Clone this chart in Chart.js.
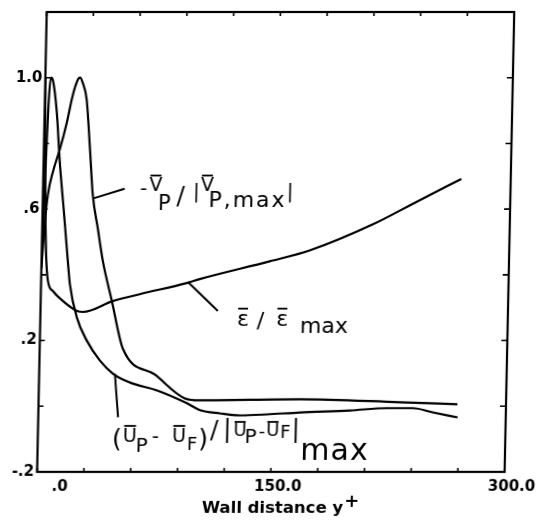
<!DOCTYPE html>
<html>
<head>
<meta charset="utf-8">
<script src="https://cdn.jsdelivr.net/npm/chart.js@4.4.0/dist/chart.umd.min.js"></script>
<style>
  html, body { margin: 0; padding: 0; background: #fff; overflow: hidden; }
  #wrap { width: 536px; height: 524px; overflow: hidden; }
  /* slight shear on the whole plot */
  #plot { display: block; transform: skewX(-1.2deg); transform-origin: 268px 262px; }
</style>
</head>
<body>
<div id="wrap"><canvas id="plot" width="550" height="524"></canvas></div>
<script>
// (Up - Uf) / |Up - Uf|max against y+
const slipX = [0, 1.2, 2.4, 3.5, 5.0, 7.8, 10.4, 13.7, 16.9, 18.5, 23.5, 30.2, 38.8, 47.4, 58.4, 75.8, 95.2, 103.7, 116.5, 129.4, 146.7, 167.8, 199.9, 223.6, 240.3, 253.1, 269.1];
const slipY = [0.45, 0.70, 0.92, 1.0, 0.99, 0.895, 0.743, 0.592, 0.441, 0.372, 0.269, 0.199, 0.139, 0.099, 0.072, 0.048, 0.009, -0.012, -0.022, -0.028, -0.025, -0.019, -0.013, -0.006, -0.006, -0.019, -0.034];

// -Vp / |Vp,max|
const partX = [0, 1.5, 3.2, 6.1, 10.3, 14.4, 17.8, 21.0, 22.3, 24.0, 26.8, 29.4, 32.0, 35.7, 39.4, 45.7, 53.4, 74.3, 93.8, 103.5, 167.6, 231.7, 268.8];
const partY = [0.42, 0.55, 0.644, 0.713, 0.783, 0.864, 0.946, 0.995, 1.0, 0.985, 0.934, 0.795, 0.644, 0.541, 0.441, 0.320, 0.175, 0.096, 0.024, 0.018, 0.021, 0.012, 0.006];

// eps / eps max
const dissX = [0, 0.8, 1.8, 3.0, 4.4, 7.8, 14.3, 23.4, 27.3, 46.3, 63.5, 93.5, 101.8, 146.4, 171.9, 211.9, 239.8, 268.3];
const dissY = [1.0, 0.80, 0.60, 0.45, 0.381, 0.350, 0.320, 0.290, 0.287, 0.320, 0.341, 0.375, 0.387, 0.441, 0.474, 0.553, 0.622, 0.692];

const xTickValues = [0, 150, 300];
const xTickLabels = ['.0', '150.0', '300.0'];
const yTickValues = [-0.2, 0.2, 0.6, 1.0];
const yTickLabels = ['-.2', '.2', '.6', '1.0'];

const pts = (xs, ys) => xs.map((v, i) => ({ x: v, y: ys[i] }));
const pick = (vals, labels) => v => {
  const i = vals.findIndex(t => Math.abs(t - v) < 1e-6);
  return i < 0 ? '' : labels[i];
};

// curve labels: leader line (data coords) and text runs
const notes = [
  {
    leader: [[32, 0.632], [52.4, 0.662]],
    at: [62.2, 0.635],
    runs: [
      { t: '-', s: 20, dy: -3 },
      { t: 'V', s: 19, dy: -7, dx: 2, bar: 16 },
      { t: 'P', s: 21, dy: 12, dx: -4 },
      { t: '/', s: 24, dy: 6, dx: 6 },
      { t: '|', s: 20, dy: 0, dx: 8 },
      { t: 'V', s: 19, dy: -7, dx: 1, bar: 16 },
      { t: 'P,max', s: 22, dy: 9, dx: -5, ls: 2 },
      { t: '|', s: 20, dy: 0, dx: 0 }
    ]
  },
  {
    leader: [[94.2, 0.378], [113.8, 0.290]],
    at: [126.2, 0.245],
    runs: [
      { t: 'ε', s: 22, dy: 0, bar: 18 },
      { t: '/', s: 22, dy: 2, dx: 8 },
      { t: 'ε', s: 22, dy: 0, dx: 12, bar: 18 },
      { t: 'max', s: 22, dy: 7, dx: 12 }
    ]
  },
  {
    leader: [[48.6, 0.099], [51.2, -0.034]],
    at: [47.7, -0.109],
    runs: [
      { t: '(', s: 25, dy: 5 },
      { t: 'U', s: 19, dy: 0, dx: 1, bar: 17 },
      { t: 'P', s: 20, dy: 10, dx: -1 },
      { t: '-', s: 20, dy: 1, dx: 4 },
      { t: 'U', s: 19, dy: 0, dx: 13, bar: 17 },
      { t: 'F', s: 18, dy: 8, dx: 1 },
      { t: ')', s: 25, dy: 5, dx: 1 },
      { t: '/', s: 24, dy: -4, dx: 2 },
      { t: '|', s: 24, dy: -5, dx: 5 },
      { t: 'U', s: 18, dy: -6, dx: 2, bar: 15 },
      { t: 'P', s: 20, dy: 1, dx: -2 },
      { t: '-', s: 18, dy: -5, dx: 2 },
      { t: 'U', s: 18, dy: -6, dx: 1, bar: 15 },
      { t: 'F', s: 18, dy: -4, dx: 1 },
      { t: '|', s: 24, dy: -5, dx: 1 },
      { t: 'max', s: 30, dy: 18, dx: 1, ls: 1 }
    ]
  }
];

function drawRuns(ctx, x, y, runs) {
  runs.forEach(r => {
    x += r.dx || 0;
    ctx.font = r.s + 'px "DejaVu Sans"';
    ctx.letterSpacing = (r.ls || 0) + 'px';
    ctx.fillText(r.t, x, y + r.dy);
    const w = ctx.measureText(r.t).width;
    if (r.bar) ctx.fillRect(x + 1, y + r.dy - r.bar, w - 2 - (r.ls || 0), 1.8);
    x += w;
  });
  ctx.letterSpacing = '0px';
}

const decorations = {
  id: 'decorations',
  afterDraw(chart) {
    const { ctx, chartArea: a } = chart;
    const sx = chart.scales.x, sy = chart.scales.y;
    ctx.save();
    ctx.strokeStyle = '#000';
    ctx.fillStyle = '#000';

    // frame
    ctx.lineWidth = 2.2;
    ctx.strokeRect(a.left, a.top, a.right - a.left, a.bottom - a.top);

    // tick marks pointing inwards on all four sides
    ctx.lineWidth = 1.6;
    ctx.beginPath();
    sx.ticks.forEach(t => {
      const px = sx.getPixelForValue(t.value);
      ctx.moveTo(px, a.bottom); ctx.lineTo(px, a.bottom - 4);
      ctx.moveTo(px, a.top); ctx.lineTo(px, a.top + 4);
    });
    sy.ticks.forEach(t => {
      const py = sy.getPixelForValue(t.value);
      ctx.moveTo(a.left, py); ctx.lineTo(a.left + 5, py);
      ctx.moveTo(a.right, py); ctx.lineTo(a.right - 6, py);
    });
    ctx.stroke();

    // curve labels
    ctx.lineWidth = 2;
    ctx.textAlign = 'left';
    ctx.textBaseline = 'alphabetic';
    notes.forEach(n => {
      const [p, q] = n.leader;
      ctx.beginPath();
      ctx.moveTo(sx.getPixelForValue(p[0]), sy.getPixelForValue(p[1]));
      ctx.lineTo(sx.getPixelForValue(q[0]), sy.getPixelForValue(q[1]));
      ctx.stroke();
      drawRuns(ctx, sx.getPixelForValue(n.at[0]), sy.getPixelForValue(n.at[1]), n.runs);
    });

    // axis title with superscript plus
    const tx = a.left + 165.5, ty = a.bottom + 41;
    ctx.font = 'bold 16.5px "DejaVu Sans"';
    ctx.fillText('Wall distance y', tx, ty);
    const tw = ctx.measureText('Wall distance y').width;
    ctx.font = 'bold 18px "DejaVu Sans"';
    ctx.fillText('+', tx + tw + 1, ty - 6);
    ctx.restore();
  }
};

const ctx = document.getElementById('plot').getContext('2d');
const line = { borderColor: '#000', borderWidth: 2.2, pointRadius: 0, fill: false, cubicInterpolationMode: 'monotone' };
const tickFont = { family: 'DejaVu Sans', weight: 'bold', size: 15 };

new Chart(ctx, {
  type: 'line',
  data: {
    datasets: [
      { label: 'slip', data: pts(slipX, slipY), ...line },
      { label: 'particle velocity', data: pts(partX, partY), ...line },
      { label: 'dissipation', data: pts(dissX, dissY), ...line }
    ]
  },
  options: {
    responsive: false,
    animation: false,
    devicePixelRatio: 1,
    layout: { padding: { top: 9, right: 41, left: 0, bottom: 0 } },
    plugins: { legend: { display: false }, tooltip: { enabled: false } },
    scales: {
      x: {
        type: 'linear',
        min: 0, max: 300,
        grid: { display: false, drawTicks: false },
        border: { display: false },
        afterFit: s => { s.height = 52; },
        ticks: {
          stepSize: 30,
          autoSkip: false,
          maxRotation: 0,
          align: 'end',
          labelOffset: 31,
          padding: 6,
          color: '#000',
          font: tickFont,
          callback: pick(xTickValues, xTickLabels)
        }
      },
      y: {
        min: -0.2, max: 1.2,
        grid: { display: false, drawTicks: false },
        border: { display: false },
        afterFit: s => { s.width = 41.5; },
        ticks: {
          stepSize: 0.2,
          autoSkip: false,
          padding: 3,
          color: '#000',
          font: tickFont,
          callback: pick(yTickValues, yTickLabels)
        }
      }
    }
  },
  plugins: [decorations]
});
</script>
</body>
</html>
